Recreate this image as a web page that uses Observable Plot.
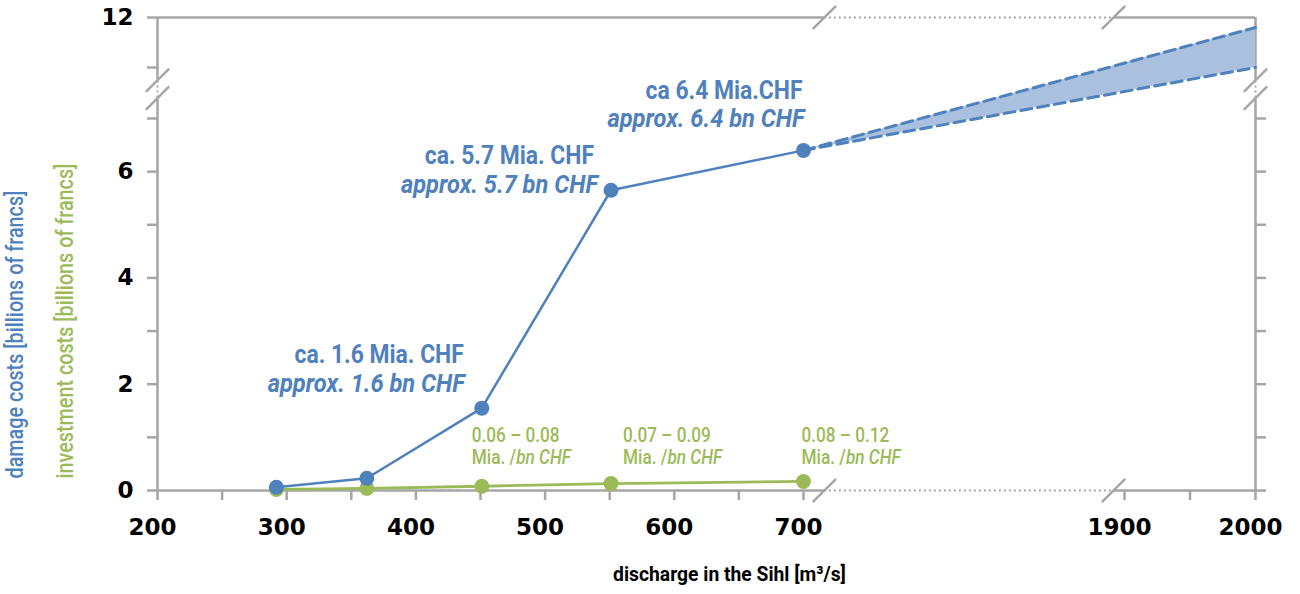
<!DOCTYPE html>
<html><head><meta charset="utf-8">
<script src="https://cdn.jsdelivr.net/npm/d3@7"></script>
<script src="https://cdn.jsdelivr.net/npm/@observablehq/plot@0.6"></script>
<style>body{margin:0;background:#fff}</style>
</head><body><div id="chart"></div>
<script>
// ---- data ----
const discharge = [292, 362, 451, 551, 700];
const damage = [0.06, 0.23, 1.55, 5.65, 6.4];
const investment = [0.02, 0.04, 0.08, 0.13, 0.17];
const projX = [700, 2000];
const projLow = [6.4, 11.0];
const projHigh = [6.4, 11.8];
const damageLabels1 = ["ca. 1.6 Mia. CHF", "ca. 5.7 Mia. CHF", "ca 6.4 Mia.CHF"];
const damageLabels2 = ["approx. 1.6 bn CHF", "approx. 5.7 bn CHF", "approx. 6.4 bn CHF"];
const damageLabelIdx = [2, 3, 4];
const investLabels = ["0.06 – 0.08", "0.07 – 0.09", "0.08 – 0.12"];
const investLabels2 = ["Mia. /bn CHF", "Mia. /bn CHF", "Mia. /bn CHF"];
const investLabelIdx = [2, 3, 4];
const xTicks = [200, 250, 300, 350, 400, 450, 500, 550, 600, 650, 700, 1900, 1950, 2000];
const xTickLabels = [200, 300, 400, 500, 600, 700, 1900, 2000];
const yTicks = [0, 1, 2, 3, 4, 5, 6, 7, 11, 12];
const yTicksRight = [0, 1, 2, 3, 4, 5, 6, 7];
const yTickLabels = [0, 2, 4, 6, 12];
const xBreak = [778, 1859];
const yBreak = [8.6, 10];
const yTitleDamage = "damage costs [billions of francs]";
const yTitleInvest = "investment costs [billions of francs]";
const xTitle = "discharge in the Sihl [m³/s]";

// ---- styles ----
const grey = "#a6a6a6", blue = "#4f81bd", green = "#9bbb59", band = "#a9c0df";
const axisW = 2.5;
const condensed = "Roboto, sans-serif";
const tickFont = "'DejaVu Sans', sans-serif";
const slash = {draw(ctx, l) { ctx.moveTo(0, 0); ctx.lineTo(0, -l); }};

// horizontal squeeze to mimic the condensed typeface; also mixed-style tspans
const squeeze = (s) => (index, scales, values, dims, ctx, next) => {
  const g = next(index, scales, values, dims, ctx);
  g.querySelectorAll("text").forEach(t => {
    t.setAttribute("transform", (t.getAttribute("transform") || "") + ` scale(${s},1)`);
    if (t.textContent === "Mia. /bn CHF") {
      t.textContent = "";
      const ns = "http://www.w3.org/2000/svg";
      const a = document.createElementNS(ns, "tspan"); a.textContent = "Mia. /";
      const b = document.createElementNS(ns, "tspan"); b.textContent = "bn CHF"; b.setAttribute("font-style", "italic");
      t.appendChild(a); t.appendChild(b);
    }
  });
  return g;
};

const damageData = discharge.map((x, i) => ({x, y: damage[i]}));
const investData = discharge.map((x, i) => ({x, y: investment[i]}));
const projData = projX.map((x, i) => ({x, y1: projLow[i], y2: projHigh[i]}));
const upper = projX.map((x, i) => ({x, y: projHigh[i]}));
const lower = projX.map((x, i) => ({x, y: projLow[i]}));

const rule = (o) => ({stroke: grey, strokeWidth: axisW, ...o});
const dotted = (o) => ({stroke: grey, strokeWidth: 2, strokeDasharray: "2,3", ...o});

// label offsets (pixels) for damage labels [line1 dx, line1 dy, line2 dx, line2 dy]
const dOff = [[-18, -45, -17, -16], [-17, -26, -13, 3], [-1, -51, 1, -23]];
const gOff = [-10, 12, -2];

const annot = [];
damageLabelIdx.forEach((idx, k) => {
  const d = [{x: discharge[idx], y: damage[idx], t1: damageLabels1[k], t2: damageLabels2[k]}];
  annot.push(Plot.text(d, {x: "x", y: "y", text: "t1", textAnchor: "end", lineAnchor: "bottom",
    dx: dOff[k][0], dy: dOff[k][1], fill: blue, fontSize: 26, fontWeight: "bold", fontFamily: condensed, render: squeeze(0.88)}));
  annot.push(Plot.text(d, {x: "x", y: "y", text: "t2", textAnchor: "end", lineAnchor: "bottom",
    dx: dOff[k][2], dy: dOff[k][3], fill: blue, fontSize: 26, fontWeight: "bold", fontStyle: "italic", fontFamily: condensed, render: squeeze(0.91)}));
});
investLabelIdx.forEach((idx, k) => {
  const d = [{x: discharge[idx], t1: investLabels[k], t2: investLabels2[k]}];
  annot.push(Plot.text(d, {x: "x", frameAnchor: "bottom", text: "t1", textAnchor: "start", lineAnchor: "bottom",
    dx: gOff[k], dy: -49, fill: green, fontSize: 20, fontWeight: 500, fontFamily: condensed, render: squeeze(0.86)}));
  annot.push(Plot.text(d, {x: "x", frameAnchor: "bottom", text: "t2", textAnchor: "start", lineAnchor: "bottom",
    dx: gOff[k], dy: -27, fill: green, fontSize: 20, fontWeight: 500, fontFamily: condensed, render: squeeze(0.86)}));
});

const chart = Plot.plot({
  width: 1300, height: 594,
  marginLeft: 157, marginRight: 45, marginTop: 17, marginBottom: 104,
  style: {background: "white", overflow: "visible"},
  x: {type: "linear", domain: [200, 700, 1900, 2000], range: [157, 803, 1124, 1255]},
  y: {type: "linear", domain: [0, 7, 11, 12], range: [490, 118, 67, 17]},
  marks: [
    // frame
    Plot.ruleX([200], rule({y1: 0, y2: yBreak[0]})),
    Plot.ruleX([200], rule({y1: yBreak[1], y2: 12})),
    Plot.ruleX([200], dotted({y1: yBreak[0], y2: yBreak[1]})),
    Plot.ruleX([2000], rule({y1: 0, y2: yBreak[0]})),
    Plot.ruleX([2000], rule({y1: yBreak[1], y2: 12})),
    Plot.ruleX([2000], dotted({y1: yBreak[0], y2: yBreak[1]})),
    Plot.ruleY([0], rule({x1: 200, x2: xBreak[0]})),
    Plot.ruleY([0], rule({x1: xBreak[1], x2: 2000})),
    Plot.ruleY([0], dotted({x1: xBreak[0], x2: xBreak[1]})),
    Plot.ruleY([12], rule({x1: 200, x2: xBreak[0]})),
    Plot.ruleY([12], rule({x1: xBreak[1], x2: 2000})),
    Plot.ruleY([12], dotted({x1: xBreak[0], x2: xBreak[1]})),
    // ticks
    Plot.axisY(yTicks, {anchor: "left", tickSize: 10, tickFormat: () => "", stroke: grey, strokeWidth: axisW, label: null}),
    Plot.axisY(yTicksRight, {anchor: "right", tickSize: 10, tickFormat: () => "", stroke: grey, strokeWidth: axisW, label: null}),
    Plot.axisX(xTicks, {anchor: "bottom", tickSize: 10, tickFormat: () => "", stroke: grey, strokeWidth: axisW, label: null}),
    // break slashes
    Plot.vector(xBreak.flatMap(x => [{x, y: 0}, {x, y: 12}]), {x: "x", y: "y", length: 31, rotate: 45, anchor: "middle", shape: slash, stroke: grey, strokeWidth: axisW}),
    Plot.vector(yBreak.flatMap(y => [{x: 200, y}, {x: 2000, y}]), {x: "x", y: "y", length: 31, rotate: 45, anchor: "middle", shape: slash, stroke: grey, strokeWidth: axisW}),
    // tick labels
    Plot.text(yTickLabels, {y: d => d, text: d => `${d}`, frameAnchor: "left", dx: -24, textAnchor: "end", fontSize: 23, fontWeight: "bold", fontFamily: tickFont, fill: "black"}),
    Plot.text(xTickLabels, {x: d => d, text: d => `${d}`, frameAnchor: "bottom", dx: -5, dy: 44, fontSize: 23, fontWeight: "bold", fontFamily: tickFont, fill: "black"}),
    // axis titles
    Plot.text([yTitleDamage], {frameAnchor: "bottom-left", dx: 22 - 157, dy: -12, rotate: -90, textAnchor: "start", fill: blue, fontSize: 23, fontWeight: 500, fontFamily: condensed, render: squeeze(0.86)}),
    Plot.text([yTitleInvest], {frameAnchor: "bottom-left", dx: 72 - 157, dy: -12, rotate: -90, textAnchor: "start", fill: green, fontSize: 23, fontWeight: 500, fontFamily: condensed, render: squeeze(0.86)}),
    Plot.text([xTitle], {frameAnchor: "bottom", dx: 23, dy: 90, fill: "black", fontSize: 21, fontWeight: "bold", fontFamily: condensed, render: squeeze(0.92)}),
    // projection band
    Plot.areaY(projData, {x: "x", y1: "y1", y2: "y2", fill: band}),
    Plot.line(upper, {x: "x", y: "y", stroke: blue, strokeWidth: 3, strokeDasharray: "11,6"}),
    Plot.line(lower, {x: "x", y: "y", stroke: blue, strokeWidth: 3, strokeDasharray: "11,6"}),
    // series
    Plot.line(investData, {x: "x", y: "y", stroke: green, strokeWidth: 2.8}),
    Plot.dot(investData, {x: "x", y: "y", r: 7.5, fill: green}),
    Plot.line(damageData, {x: "x", y: "y", stroke: blue, strokeWidth: 2.5}),
    Plot.dot(damageData, {x: "x", y: "y", r: 7.5, fill: blue}),
    ...annot
  ]
});

document.getElementById("chart").appendChild(chart);
</script>
</body></html>
